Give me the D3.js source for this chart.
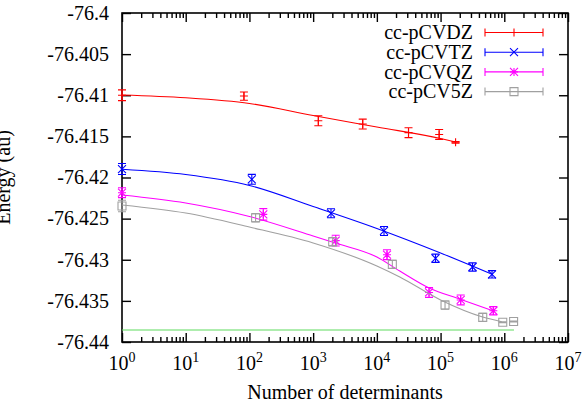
<!DOCTYPE html>
<html>
<head>
<meta charset="utf-8">
<script src="https://cdn.jsdelivr.net/npm/d3@7"></script>
<style>
  body { margin: 0; background: #fff; }
  text { font-family: "Liberation Serif", "Times New Roman", serif; fill: #000; }
</style>
</head>
<body>
<div id="chart"></div>
<script>
// measured points (number of determinants, energy, error)
const dzN = [1, 82, 1206, 6000, 31400, 95000, 172000];
const dzE = [-76.4100, -76.4101, -76.4131, -76.4135, -76.41455, -76.41477, -76.41572];
const dzErr = [0.00065, 0.0005, 0.0006, 0.0006, 0.0006, 0.0006, 0.0001];

const tzN = [1, 109, 1906, 12950, 83300, 317000, 642000];
const tzE = [-76.41897, -76.42022, -76.42435, -76.42650, -76.42982, -76.43088, -76.43177];
const tzErr = [0.00067, 0.0006, 0.00055, 0.00055, 0.0005, 0.0005, 0.00045];

const qzN = [1, 165, 2260, 14430, 65900, 207000, 673000];
const qzE = [-76.42185, -76.42448, -76.42768, -76.42939, -76.43398, -76.43489, -76.43620];
const qzErr = [0.0006, 0.0007, 0.00065, 0.0006, 0.0006, 0.0006, 0.0005];

const fzN = [1, 125, 2028, 17500, 117500, 459000, 946000, 1400000];
const fzE = [-76.42347, -76.42489, -76.42781, -76.43056, -76.43551, -76.43700, -76.43760, -76.43751];
const fzErr = [0.0007, 0.0005, 0.0005, 0.0005, 0.0005, 0.0005, 0.00005, 0.00005];

// fitted curves
const dzFitN = [1, 10, 100, 1000, 10000, 100000, 172000];
const dzFitE = [-76.40997, -76.41031, -76.41100, -76.41246, -76.41386, -76.41526, -76.41568];

const tzFitN = [1, 10, 100, 1000, 10000, 100000, 646000];
const tzFitE = [-76.41900, -76.41964, -76.42097, -76.42353, -76.42620, -76.42918, -76.43177];

const qzFitN = [1, 10, 100, 1000, 2290, 10000, 22900, 66100, 209000, 661000];
const qzFitE = [-76.42213, -76.42310, -76.42474, -76.42711, -76.42800, -76.42967, -76.43137, -76.43343, -76.43483, -76.43619];

const fzFitN = [1, 10, 100, 1000, 10000, 22900, 100000, 457000, 912000];
const fzFitE = [-76.42334, -76.42432, -76.42602, -76.42796, -76.43076, -76.43210, -76.43489, -76.43696, -76.43753];

// green reference level
const refN = [1, 1420000];
const refE = [-76.43854, -76.43854];

const seriesNames = ["cc-pCVDZ", "cc-pCVTZ", "cc-pCVQZ", "cc-pCV5Z"];
const xTickExp = [0, 1, 2, 3, 4, 5, 6, 7];
const yTickValues = [-76.44, -76.435, -76.43, -76.425, -76.42, -76.415, -76.41, -76.405, -76.4];
const yTickLabels = ["-76.44", "-76.435", "-76.43", "-76.425", "-76.42", "-76.415", "-76.41", "-76.405", "-76.4"];

const width = 582, height = 412;
const margin = { top: 13, right: 14, bottom: 70, left: 122 };

const svg = d3.select("#chart")
    .append("svg")
    .attr("width", width)
    .attr("height", height);

const xScale = d3.scaleLog()
    .domain([1, 1e7])
    .range([margin.left, width - margin.right]);

const yScale = d3.scaleLinear()
    .domain([-76.44, -76.4])
    .range([height - margin.bottom, margin.top]);

const x0 = margin.left, x1 = width - margin.right;
const y0 = height - margin.bottom, y1 = margin.top;

// ticks
const majorX = xTickExp.map(e => Math.pow(10, e));
const minorX = [];
for (let e = 0; e < 7; e++) for (let m = 2; m <= 9; m++) minorX.push(m * Math.pow(10, e));

function styleAxis(g) {
    g.select(".domain").remove();
    g.selectAll("line").attr("stroke", "#000").attr("stroke-width", 1.4);
}

svg.append("g").attr("transform", `translate(0,${y0})`)
    .call(d3.axisBottom(xScale).tickValues(majorX).tickSize(-9).tickFormat(""))
    .call(styleAxis);
svg.append("g").attr("transform", `translate(0,${y0})`)
    .call(d3.axisBottom(xScale).tickValues(minorX).tickSize(-5).tickFormat(""))
    .call(styleAxis);
svg.append("g").attr("transform", `translate(0,${y1})`)
    .call(d3.axisTop(xScale).tickValues(majorX).tickSize(-9).tickFormat(""))
    .call(styleAxis);
svg.append("g").attr("transform", `translate(0,${y1})`)
    .call(d3.axisTop(xScale).tickValues(minorX).tickSize(-5).tickFormat(""))
    .call(styleAxis);
svg.append("g").attr("transform", `translate(${x0},0)`)
    .call(d3.axisLeft(yScale).tickValues(yTickValues).tickSize(-9).tickFormat(""))
    .call(styleAxis);
svg.append("g").attr("transform", `translate(${x1},0)`)
    .call(d3.axisRight(yScale).tickValues(yTickValues).tickSize(-9).tickFormat(""))
    .call(styleAxis);

// border
svg.append("rect")
    .attr("x", x0).attr("y", y1)
    .attr("width", x1 - x0).attr("height", y0 - y1)
    .attr("fill", "none").attr("stroke", "#000").attr("stroke-width", 1.6);

// y tick labels
svg.selectAll(".ylab")
    .data(yTickValues)
    .enter()
    .append("text")
    .attr("x", x0 - 13)
    .attr("y", d => yScale(d))
    .attr("dy", "0.34em")
    .attr("text-anchor", "end")
    .style("font-size", "20px")
    .text((d, i) => yTickLabels[i]);

// x tick labels 10^n
const xl = svg.selectAll(".xlab")
    .data(xTickExp)
    .enter()
    .append("text")
    .attr("x", d => xScale(Math.pow(10, d)))
    .attr("y", 370)
    .attr("text-anchor", "middle")
    .style("font-size", "20px");
xl.append("tspan").text("10");
xl.append("tspan").attr("dy", -8).style("font-size", "14px").text(d => d);

// axis titles
svg.append("text")
    .attr("x", (x0 + x1) / 2)
    .attr("y", 399)
    .attr("text-anchor", "middle")
    .style("font-size", "20px")
    .text("Number of determinants");

svg.append("text")
    .attr("transform", "rotate(-90)")
    .attr("x", -(y0 + y1) / 2)
    .attr("y", 10)
    .attr("text-anchor", "middle")
    .style("font-size", "20px")
    .text("Energy (au)");

// markers
const ms = 4;
function markerPath(type) {
    const p = d3.path();
    if (type === "plus" || type === "star") {
        p.moveTo(-ms, 0); p.lineTo(ms, 0);
        p.moveTo(0, -ms); p.lineTo(0, ms);
    }
    if (type === "cross" || type === "star") {
        p.moveTo(-ms, -ms); p.lineTo(ms, ms);
        p.moveTo(-ms, ms); p.lineTo(ms, -ms);
    }
    if (type === "square") {
        p.rect(-ms, -ms, 2 * ms, 2 * ms);
    }
    return p.toString();
}

const line = d3.line()
    .x(d => xScale(d[0]))
    .y(d => yScale(d[1]))
    .curve(d3.curveMonotoneX);

const series = [
    { N: dzN, E: dzE, err: dzErr, fitN: dzFitN, fitE: dzFitE, color: "#ff0000", marker: "plus" },
    { N: tzN, E: tzE, err: tzErr, fitN: tzFitN, fitE: tzFitE, color: "#0000ff", marker: "cross" },
    { N: qzN, E: qzE, err: qzErr, fitN: qzFitN, fitE: qzFitE, color: "#ff00ff", marker: "star" },
    { N: fzN, E: fzE, err: fzErr, fitN: fzFitN, fitE: fzFitE, color: "#a0a0a0", marker: "square" }
];

// green reference line
svg.append("path")
    .datum(refN.map((d, i) => [d, refE[i]]))
    .attr("d", line)
    .attr("fill", "none")
    .attr("stroke", "#5fdc5f")
    .attr("stroke-width", 1.2);

const capW = 4;
series.forEach(s => {
    // fit curve
    svg.append("path")
        .datum(s.fitN.map((d, i) => [d, s.fitE[i]]))
        .attr("d", line)
        .attr("fill", "none")
        .attr("stroke", s.color)
        .attr("stroke-width", 1.1);

    const pts = s.N.map((d, i) => ({ n: d, e: s.E[i], err: s.err[i] }));
    const g = svg.append("g")
        .attr("stroke", s.color)
        .attr("stroke-width", 1.1)
        .attr("fill", "none");

    // error bars
    const eb = g.selectAll(".eb")
        .data(pts)
        .enter()
        .append("path")
        .attr("d", d => {
            const cx = xScale(d.n), ya = yScale(d.e - d.err), yb = yScale(d.e + d.err);
            return `M${cx},${ya}V${yb}M${cx - capW},${ya}H${cx + capW}M${cx - capW},${yb}H${cx + capW}`;
        });

    g.selectAll(".pt")
        .data(pts)
        .enter()
        .append("path")
        .attr("transform", d => `translate(${xScale(d.n)},${yScale(d.e)})`)
        .attr("d", markerPath(s.marker));
});

// legend
const legX = 473, legY = 32.5, legStep = 19.7;
const lx0 = 485, lx1 = 543;
series.forEach((s, i) => {
    const ly = legY + i * legStep;
    svg.append("text")
        .attr("x", legX)
        .attr("y", ly)
        .attr("dy", "0.34em")
        .attr("text-anchor", "end")
        .style("font-size", "20px")
        .text(seriesNames[i]);
    svg.append("path")
        .attr("d", `M${lx0},${ly}H${lx1}M${lx0},${ly - capW}V${ly + capW}M${lx1},${ly - capW}V${ly + capW}`)
        .attr("stroke", s.color)
        .attr("stroke-width", 1.1)
        .attr("fill", "none");
    svg.append("path")
        .attr("transform", `translate(${(lx0 + lx1) / 2},${ly})`)
        .attr("d", markerPath(s.marker))
        .attr("stroke", s.color)
        .attr("stroke-width", 1.1)
        .attr("fill", "none");
});
</script>
</body>
</html>
